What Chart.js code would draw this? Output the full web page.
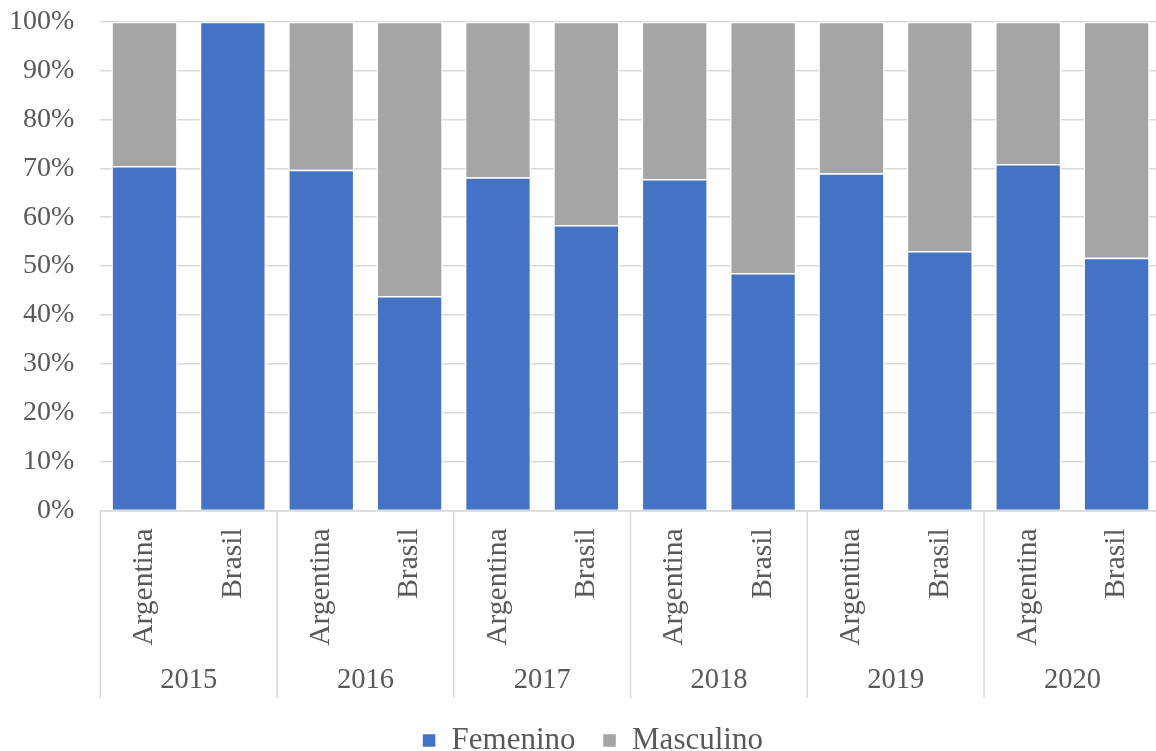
<!DOCTYPE html>
<html>
<head>
<meta charset="utf-8">
<script src="https://cdn.jsdelivr.net/npm/chart.js@4"></script>
<style>
  html, body { margin: 0; padding: 0; background: #fff; overflow: hidden; }
  body { width: 1156px; height: 751px; position: relative; }
  /* el lienzo se desplaza para ajustar el margen superior del eje Y */
  #wrap { position: absolute; left: 0; top: -21px; width: 1162px; height: 772px; }
</style>
</head>
<body>
<div id="wrap"><canvas id="chart"></canvas></div>
<script>
// Datos
const years = ['2015', '2016', '2017', '2018', '2019', '2020'];
const countries = ['Argentina', 'Brasil', 'Argentina', 'Brasil', 'Argentina', 'Brasil',
                   'Argentina', 'Brasil', 'Argentina', 'Brasil', 'Argentina', 'Brasil'];
const femenino = [70.5, 100, 69.7, 43.9, 68.2, 58.4, 67.8, 48.6, 69.0, 53.1, 70.9, 51.7];
const masculino = [29.5, 0, 30.3, 56.1, 31.8, 41.6, 32.2, 51.4, 31.0, 46.9, 29.1, 48.3];

const textColor = '#595959';
const gridColor = '#D9D9D9';
const fontFamily = "'Liberation Serif', 'Times New Roman', serif";

// Líneas separadoras entre los años (eje de dos niveles)
const groupLines = {
    id: 'groupLines',
    afterLayout(chart) {
        // desplazar la leyenda un poco a la derecha, como en el original
        chart.legend.left += 20;
        chart.legend.right += 20;
    },
    afterDraw(chart) {
        const x = chart.scales.x;
        const x2 = chart.scales.x2;
        const ctx = chart.ctx;
        ctx.save();
        ctx.strokeStyle = gridColor;
        ctx.lineWidth = 1.5;
        for (let g = 0; g <= years.length; g++) {
            let px;
            if (g === 0) px = x.left;
            else if (g === years.length) px = x.right;
            else px = (x.getPixelForValue(2 * g - 1) + x.getPixelForValue(2 * g)) / 2;
            ctx.beginPath();
            ctx.moveTo(px, chart.chartArea.bottom);
            ctx.lineTo(px, x2.bottom);
            ctx.stroke();
        }
        ctx.restore();
    }
};

new Chart(document.getElementById('chart'), {
    type: 'bar',
    data: {
        labels: countries,
        datasets: [
            {
                label: 'Femenino',
                data: femenino,
                backgroundColor: '#4472C4',
                borderColor: '#ffffff',
                borderWidth: 1.5,
                barPercentage: 0.75,
                categoryPercentage: 1
            },
            {
                label: 'Masculino',
                data: masculino,
                backgroundColor: '#A5A5A5',
                borderColor: '#ffffff',
                borderWidth: 1.5,
                barPercentage: 0.75,
                categoryPercentage: 1
            }
        ]
    },
    options: {
        responsive: true,
        maintainAspectRatio: false,
        animation: false,
        layout: { padding: { top: 0, right: 0, left: -17, bottom: -15 } },
        plugins: {
            tooltip: { enabled: false },
            legend: {
                position: 'bottom',
                labels: {
                    color: textColor,
                    font: { family: fontFamily, size: 31 },
                    boxWidth: 14,
                    boxHeight: 14,
                    padding: 27
                }
            }
        },
        scales: {
            x: {
                stacked: true,
                grid: { display: false },
                border: { display: true, color: gridColor, width: 1.5 },
                ticks: {
                    color: textColor,
                    font: { family: fontFamily, size: 29.5 },
                    minRotation: 90,
                    maxRotation: 90,
                    padding: 10,
                    autoSkip: false
                }
            },
            x2: {
                type: 'category',
                labels: years,
                position: 'bottom',
                grid: { display: false },
                border: { display: false },
                ticks: {
                    color: textColor,
                    font: { family: fontFamily, size: 28.5 },
                    padding: 0
                }
            },
            y: {
                stacked: true,
                min: 0,
                max: 100,
                grid: { color: gridColor, lineWidth: 1.5, drawTicks: false },
                border: { display: false },
                ticks: {
                    stepSize: 10,
                    color: textColor,
                    font: { family: fontFamily, size: 28 },
                    padding: 26,
                    callback: v => v + '%'
                }
            }
        }
    },
    plugins: [groupLines]
});
</script>
</body>
</html>
